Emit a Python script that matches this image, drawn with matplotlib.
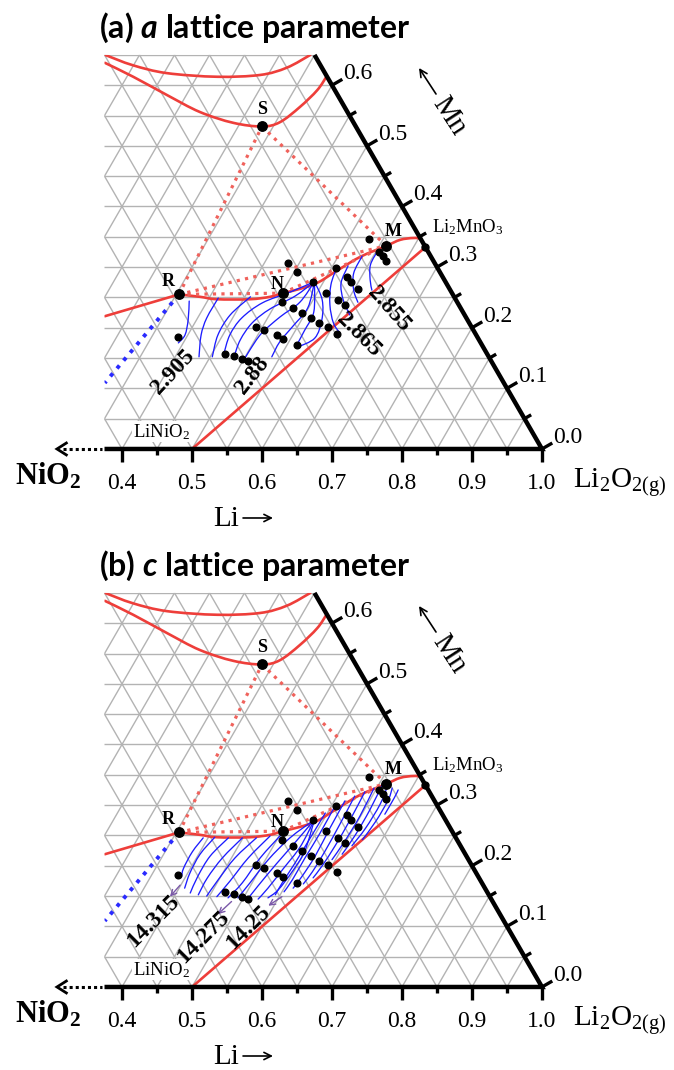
import numpy as np
import matplotlib
matplotlib.use("Agg")
import matplotlib.pyplot as plt
from matplotlib.path import Path
from matplotlib.patches import PathPatch, Polygon
from matplotlib.collections import LineCollection

plt.rcParams.update({
    "mathtext.fontset": "custom",
    "mathtext.rm": "Liberation Serif",
    "mathtext.bf": "Liberation Serif:bold",
    "mathtext.it": "Lato:italic:bold",
})
SERIF = ["Liberation Serif", "DejaVu Serif"]

H = np.sqrt(3) / 2

# ---------------------------------------------------------------- data
# compositions are (Li fraction, Mn fraction)
pt_R = (0.354, 0.255)
pt_N = (0.501, 0.257)
pt_M = (0.610, 0.335)
pt_S = (0.334, 0.532)
li2mno3 = (0.667, 0.333)
linio2 = (0.500, 0.000)

sample_li = [0.387, 0.469, 0.484, 0.497, 0.507, 0.490, 0.505, 0.527, 0.540, 0.565,
             0.507, 0.528, 0.545, 0.562, 0.578, 0.594, 0.612, 0.535, 0.563, 0.586,
             0.599, 0.556, 0.579, 0.590, 0.605, 0.483, 0.504, 0.580, 0.605, 0.614,
             0.622]
sample_mn = [0.185, 0.156, 0.153, 0.148, 0.145, 0.202, 0.196, 0.188, 0.181, 0.171,
             0.243, 0.232, 0.224, 0.216, 0.207, 0.202, 0.189, 0.276, 0.258, 0.246,
             0.238, 0.299, 0.284, 0.275, 0.264, 0.307, 0.292, 0.346, 0.325, 0.318,
             0.310]

# phase boundaries (red)
upper_li = [0.051, 0.099, 0.154, 0.229, 0.289, 0.321, 0.344]
upper_mn = [0.650, 0.633, 0.620, 0.614, 0.617, 0.629, 0.650]
arc_li = [0.057, 0.109, 0.172, 0.233, 0.290, 0.334, 0.356, 0.372, 0.383, 0.385]
arc_mn = [0.637, 0.614, 0.584, 0.556, 0.538, 0.532, 0.539, 0.564, 0.592, 0.615]
edge_li = [0.266, 0.354]
edge_mn = [0.219, 0.255]
layer_li = [0.354, 0.386, 0.412, 0.459, 0.486, 0.501, 0.522, 0.542, 0.560, 0.582,
            0.610, 0.625, 0.642, 0.653, 0.667]
layer_mn = [0.255, 0.251, 0.247, 0.247, 0.251, 0.257, 0.264, 0.274, 0.294, 0.317,
            0.335, 0.345, 0.348, 0.346, 0.333]
tie_li = [0.354, 0.321]
tie_mn = [0.255, 0.109]

# iso-lattice-parameter lines, a parameter
C = (0.537, 0.276)
iso_a = [
    [(0.374, 0.244), (0.388, 0.213), (0.396, 0.188), (0.393, 0.175)],
    [(0.413, 0.249), (0.413, 0.216), (0.419, 0.188), (0.434, 0.152)],
    [(0.458, 0.251), (0.444, 0.221), (0.443, 0.188), (0.453, 0.152)],
    [C, (0.511, 0.259), (0.480, 0.241), (0.463, 0.216), (0.460, 0.188), (0.467, 0.157)],
    [C, (0.521, 0.252), (0.496, 0.231), (0.482, 0.208), (0.479, 0.180), (0.484, 0.152)],
    [C, (0.533, 0.242), (0.517, 0.218), (0.504, 0.191), (0.501, 0.163), (0.501, 0.147)],
    [C, (0.549, 0.233), (0.543, 0.203), (0.537, 0.177), (0.538, 0.152)],
    [C, (0.561, 0.226), (0.563, 0.196), (0.564, 0.170)],
    [C, (0.563, 0.246), (0.579, 0.213), (0.584, 0.183), (0.567, 0.168)],
    [(0.557, 0.300), (0.563, 0.271), (0.578, 0.238), (0.598, 0.208), (0.617, 0.190)],
    [(0.572, 0.302), (0.576, 0.274), (0.593, 0.246), (0.615, 0.221)],
    [(0.584, 0.318), (0.586, 0.290), (0.600, 0.262), (0.616, 0.242)],
    [(0.602, 0.328), (0.603, 0.304), (0.615, 0.279), (0.626, 0.262)],
]

# iso-lattice-parameter lines, c parameter
iso_c = [
    [(0.393, 0.246), (0.389, 0.223), (0.390, 0.196), (0.394, 0.182)],
    [(0.409, 0.247), (0.402, 0.219), (0.403, 0.188), (0.408, 0.163)],
    [(0.429, 0.246), (0.418, 0.216), (0.417, 0.183), (0.420, 0.155)],
    [(0.449, 0.246), (0.437, 0.213), (0.432, 0.180), (0.433, 0.152)],
    [(0.469, 0.246), (0.455, 0.213), (0.449, 0.177), (0.446, 0.150)],
    [(0.487, 0.249), (0.474, 0.213), (0.467, 0.175), (0.461, 0.149)],
    [(0.502, 0.252), (0.491, 0.213), (0.486, 0.172), (0.478, 0.147)],
    [C, (0.517, 0.246), (0.504, 0.210), (0.497, 0.172), (0.492, 0.147)],
    [C, (0.528, 0.238), (0.519, 0.203), (0.511, 0.167), (0.507, 0.145)],
    [C, (0.539, 0.231), (0.533, 0.196), (0.527, 0.163), (0.522, 0.145)],
    [C, (0.549, 0.224), (0.548, 0.190), (0.543, 0.160), (0.535, 0.147)],
    [(0.547, 0.287), (0.546, 0.246), (0.545, 0.205), (0.543, 0.172), (0.543, 0.152)],
    [(0.555, 0.299), (0.556, 0.254), (0.555, 0.213), (0.555, 0.177), (0.553, 0.157)],
    [(0.565, 0.307), (0.566, 0.262), (0.568, 0.216), (0.566, 0.183), (0.563, 0.163)],
    [(0.575, 0.315), (0.577, 0.269), (0.578, 0.224), (0.577, 0.190), (0.574, 0.170)],
    [(0.586, 0.322), (0.588, 0.276), (0.588, 0.233), (0.586, 0.200), (0.583, 0.180)],
    [(0.596, 0.328), (0.599, 0.282), (0.598, 0.241), (0.595, 0.210)],
    [(0.605, 0.333), (0.608, 0.292), (0.608, 0.251), (0.605, 0.219)],
    [(0.613, 0.335), (0.618, 0.302), (0.617, 0.262), (0.612, 0.233)],
    [(0.622, 0.328), (0.626, 0.309), (0.626, 0.274), (0.622, 0.243)],
    [(0.632, 0.325), (0.633, 0.312), (0.633, 0.285)],
]

# ---------------------------------------------------------------- helpers
TOP = 0.65
LEFT = 0.375


def cart(li, mn):
    li = np.asarray(li, float)
    mn = np.asarray(mn, float)
    return li + mn / 2, mn * H


def smooth_path(points):
    p = np.asarray(points, float)
    verts = [p[0]]
    codes = [Path.MOVETO]
    n = len(p)
    for i in range(n - 1):
        p0 = p[i - 1] if i > 0 else p[i]
        p1, p2 = p[i], p[i + 1]
        p3 = p[i + 2] if i + 2 < n else p[i + 1]
        verts += [p1 + (p2 - p0) / 6, p2 - (p3 - p1) / 6, p2]
        codes += [Path.CURVE4] * 3
    return Path(verts, codes)


def curve(ax, li, mn, clip, **kw):
    x, y = cart(li, mn)
    patch = PathPatch(smooth_path(np.column_stack([x, y])), facecolor="none",
                      capstyle="round", joinstyle="round", **kw)
    ax.add_patch(patch)
    patch.set_clip_path(clip)
    return patch


def seg(ax, a, b, clip=None, **kw):
    x, y = cart([a[0], b[0]], [a[1], b[1]])
    ln, = ax.plot(x, y, **kw)
    if clip is not None:
        ln.set_clip_path(clip)
    return ln


def arrow(ax, tail, tip, lw=1.2, size=13, color="k"):
    ax.annotate("", xy=tip, xytext=tail,
                arrowprops=dict(arrowstyle="->", color=color, lw=lw,
                                shrinkA=0, shrinkB=0, mutation_scale=size))


RED = "#ee3e3a"
RED_DOT = "#f0625c"
BLUE = "#1c1cff"


def draw_panel(ax, title, iso, labels, arrows):
    ax.set_axis_off()
    clip = Polygon([(LEFT, 0), (1, 0), (1 - TOP / 2, TOP * H), (LEFT, TOP * H)],
                   closed=True, transform=ax.transData)

    # triangular grid
    segs = []
    for k in range(1, 14):
        m = 0.05 * k
        segs.append([(LEFT - 0.1, m * H), (1.1, m * H)])
    for k in range(-16, 21):
        c = 0.05 * k
        x, y = cart([c, c], [0, 0.8])
        segs.append(list(zip(x, y)))
    for k in range(1, 22):
        c = 0.05 * k
        x, y = cart([1 - c, 1 - c - 0.8], [0, 0.8])
        segs.append(list(zip(x, y)))
    grid = LineCollection(segs, colors="#b3b3b3", linewidths=1.0, zorder=1)
    grid.set_clip_path(clip)
    ax.add_collection(grid)

    # red phase boundaries
    red = dict(edgecolor=RED, linewidth=1.9, zorder=3)
    curve(ax, upper_li, upper_mn, clip, **red)
    curve(ax, arc_li, arc_mn, clip, **red)
    curve(ax, edge_li, edge_mn, clip, **red)
    curve(ax, layer_li, layer_mn, clip, **red)
    seg(ax, li2mno3, linio2, clip, color=RED, lw=1.9, zorder=3,
        solid_capstyle="round")

    # dotted tie lines
    dkw = dict(color=RED_DOT, lw=2.3, ls=":", zorder=3)
    for a, b in ((pt_R, pt_S), (pt_S, pt_M), (pt_R, pt_M), (pt_R, pt_N), (pt_N, pt_M)):
        seg(ax, a, b, clip, **dkw)
    seg(ax, (tie_li[0], tie_mn[0]), (tie_li[1], tie_mn[1]), clip,
        color="#2a2aff", lw=2.8, ls=":", zorder=3)

    # contour lines
    for line in iso:
        li, mn = zip(*line)
        curve(ax, li, mn, clip, edgecolor=BLUE, linewidth=0.95, zorder=4)

    # samples and labelled compositions
    x, y = cart(sample_li, sample_mn)
    ax.plot(x, y, "o", ms=4.8, color="k", zorder=6)
    for p in (pt_R, pt_N, pt_M, pt_S):
        x, y = cart(*p)
        ax.plot(x, y, "o", ms=6.8, color="k", zorder=6)
    x, y = cart(*li2mno3)
    ax.plot(x, y, "o", ms=5.0, color="k", zorder=6)

    # axes frame and ticks
    ax.plot([LEFT, 1, 1 - TOP / 2], [0, 0, TOP * H], color="k", lw=3.2,
            solid_joinstyle="miter", solid_capstyle="butt", zorder=5)
    for k in range(8, 21):
        t = 0.05 * k
        L = 0.018 if k % 2 == 0 else 0.009
        ax.plot([t, t], [0, -L], color="k", lw=2.4, solid_capstyle="butt", zorder=5)
        if k % 2 == 0:
            ax.text(t, -0.0571, f"{t:.1f}", fontsize=17, family=SERIF,
                    ha="center", va="baseline")
    for k in range(0, 13):
        m = 0.05 * k
        L = 0.017 if k % 2 == 0 else 0.011
        x0, y0 = cart(1 - m, m)
        ax.plot([x0, x0 + L * H], [y0, y0 + L * 0.5], color="k", lw=2.4,
                solid_capstyle="butt", zorder=5)
        if k % 2 == 0:
            ax.text(x0 + 0.0157, y0 + 0.0086, f"{m:.1f}", fontsize=17,
                    family=SERIF, ha="left", va="baseline")

    # arrow towards NiO2
    ax.plot([0.316, 0.372], [0, 0], color="k", lw=2.2, ls=(0, (1, 1)),
            solid_capstyle="butt")
    ax.plot([0.3205, 0.3071, 0.3205], [0.0085, 0, -0.0085], color="k", lw=2.0,
            solid_joinstyle="miter")

    ax.text(0.2943, -0.0514, r"$\mathbf{NiO_2}$", fontsize=22, family=SERIF,
            ha="center", va="baseline")
    ax.text(1.0443, -0.0557, r"$\mathrm{Li_2O_{2(g)}}$", fontsize=21, family=SERIF,
            ha="left", va="baseline")

    # axis names with arrows
    ax.text(0.5671, -0.1100, "Li", fontsize=21, family=SERIF, ha="right",
            va="baseline")
    arrow(ax, (0.5729, -0.0986), (0.6157, -0.0986))
    ax.text(0.8671, 0.4757, "Mn", fontsize=21, family=SERIF, ha="center",
            va="center", rotation=-57, rotation_mode="anchor")
    arrow(ax, (0.8486, 0.5071), (0.8243, 0.5443))

    for s, (xx, yy) in (("R", (0.4657, 0.239)), ("N", (0.621, 0.2343)),
                        ("M", (0.7876, 0.3104)), ("S", (0.5996, 0.4843))):
        ax.text(xx, yy, s, fontsize=13, family=SERIF, fontweight="bold",
                ha="center", va="center", zorder=7)
    ax.text(0.8429, 0.310, r"$\mathrm{Li_2MnO_3}$", fontsize=13.5, family=SERIF,
            ha="left", va="baseline")
    ax.text(0.4157, 0.0171, r"$\mathrm{LiNiO_2}$", fontsize=13.5, family=SERIF,
            ha="left", va="baseline", zorder=2,
            bbox=dict(facecolor="white", edgecolor="none", pad=0.5))

    for s, xx, yy, rot in labels:
        ax.text(xx, yy, s, fontsize=17, family=SERIF, fontweight="bold",
                ha="center", va="center", rotation=rot, rotation_mode="anchor",
                zorder=7)
    for a, b in arrows:
        arrow(ax, cart(*a), cart(*b), lw=1.0, size=10, color="#7a58a8")

    ax.text(0.3671, 0.5871, title, fontsize=23, family="Lato", fontweight="bold",
            ha="left", va="baseline")


fig = plt.figure(figsize=(6.74, 10.70), dpi=100)
ax_a = fig.add_axes([0, 0.5, 1, 0.5])
ax_b = fig.add_axes([0, 0, 1, 0.5])
for ax in (ax_a, ax_b):
    ax.set_xlim(0.2257, 1.1886)
ax_a.set_ylim(-0.1229, 0.6414)
ax_b.set_ylim(-0.1186, 0.6457)

labels_a = [("2.905", 0.4729, 0.110, 47), ("2.88", 0.5857, 0.1057, 52),
            ("2.865", 0.7386, 0.1629, -45), ("2.855", 0.7814, 0.200, -48)]
labels_b = [("14.315", 0.4443, 0.0943, 45), ("14.275", 0.5164, 0.0707, 45),
            ("14.25", 0.580, 0.0857, 45)]
arrows_b = [((0.399, 0.168), (0.394, 0.149)), ((0.486, 0.141), (0.477, 0.120)),
            ((0.554, 0.149), (0.542, 0.134))]

draw_panel(ax_a, r"(a) $\mathit{a}$ lattice parameter", iso_a, labels_a, [])
draw_panel(ax_b, r"(b) $\mathit{c}$ lattice parameter", iso_c, labels_b, arrows_b)

fig.savefig("out.png", dpi=100)
